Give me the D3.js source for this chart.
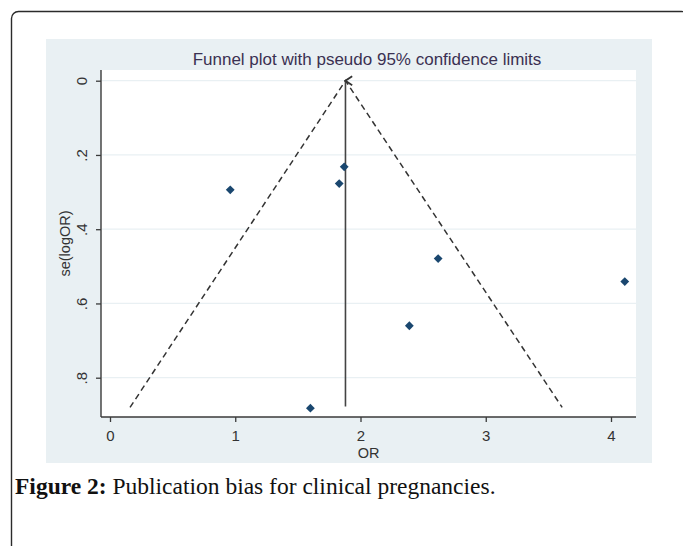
<!DOCTYPE html>
<html>
<head>
<meta charset="utf-8">
<script src="https://cdn.jsdelivr.net/npm/d3@7"></script>
<style>
body { margin: 0; background: #fff; }
</style>
</head>
<body>
<div id="funnel"></div>
<script>
// study estimates
const studyOR = [0.96, 1.87, 1.83, 2.62, 4.11, 2.39, 1.60];
const studySE = [0.294, 0.232, 0.277, 0.479, 0.541, 0.660, 0.882];

// pooled estimate and pseudo 95% limits
const pooledOR = 1.88;
const pooledSEmax = 0.88;
const limitOR = [0.16, 1.88, 3.61];
const limitSE = [0.88, 0, 0.88];

const xTicks = [0, 1, 2, 3, 4];
const yTicks = [0, 0.2, 0.4, 0.6, 0.8];
const yTickLabels = ['0', '.2', '.4', '.6', '.8'];

const width = 683, height = 546;

const svg = d3.select('#funnel')
    .append('svg')
    .attr('width', width)
    .attr('height', height);

// outer box of the figure
svg.append('rect')
    .attr('x', 11.5).attr('y', 11.5)
    .attr('width', 677).attr('height', 580)
    .attr('rx', 7)
    .style('fill', 'none')
    .style('stroke', '#2b2b2b')
    .style('stroke-width', 1.4);

// graph region
svg.append('rect')
    .attr('x', 46).attr('y', 39)
    .attr('width', 606).attr('height', 424)
    .style('fill', '#e9f0f3');

const plotL = 101, plotR = 636, plotT = 70, plotB = 417;

svg.append('rect')
    .attr('x', plotL).attr('y', plotT)
    .attr('width', plotR - plotL).attr('height', plotB - plotT)
    .style('fill', '#fff');

let scaleX = d3.scaleLinear().domain([0, 4]).range([110, 611]);
let scaleY = d3.scaleLinear().domain([0, 0.8]).range([80.7, 377.7]);

// grid
svg.selectAll('.grid')
    .data(yTicks)
    .enter()
    .append('line')
    .attr('class', 'grid')
    .attr('x1', plotL + 1).attr('x2', plotR)
    .attr('y1', d => scaleY(d)).attr('y2', d => scaleY(d))
    .style('stroke', '#e9f0f3')
    .style('stroke-width', 1.2);

// axes
let xAxis = d3.axisBottom(scaleX).tickValues(xTicks).tickSize(5).tickFormat(d3.format('d'));
let yAxis = d3.axisLeft(scaleY).tickValues(yTicks).tickSize(5).tickFormat((d, i) => yTickLabels[i]);

let xAxisGroup = svg.append('g')
    .attr('class', 'x axis')
    .attr('transform', 'translate(0,' + plotB + ')')
    .call(xAxis);

let yAxisGroup = svg.append('g')
    .attr('class', 'y axis')
    .attr('transform', 'translate(' + plotL + ',0)')
    .call(yAxis);

[xAxisGroup, yAxisGroup].forEach(g => {
    g.select('.domain').remove();
    g.selectAll('.tick line').style('stroke', '#3a3a3a').style('stroke-width', 1.3);
    g.selectAll('.tick text')
        .style('font-family', '"Liberation Sans", Arial, sans-serif')
        .style('font-size', '15px')
        .style('fill', '#333');
});

xAxisGroup.selectAll('.tick text').attr('y', 13).attr('dy', '0.71em');

yAxisGroup.selectAll('.tick text')
    .attr('x', 0).attr('dy', '0.36em')
    .attr('transform', 'translate(-19,0) rotate(-90)')
    .style('text-anchor', 'middle');

svg.append('line')
    .attr('x1', plotL).attr('x2', plotL)
    .attr('y1', plotT).attr('y2', plotB)
    .style('stroke', '#3a3a3a').style('stroke-width', 1.4);
svg.append('line')
    .attr('x1', plotL).attr('x2', plotR)
    .attr('y1', plotB).attr('y2', plotB)
    .style('stroke', '#3a3a3a').style('stroke-width', 1.4);

// axis titles
svg.append('text')
    .attr('transform', 'translate(70,' + (plotT + plotB) / 2 + ') rotate(-90)')
    .style('text-anchor', 'middle')
    .style('font-family', '"Liberation Sans", Arial, sans-serif')
    .style('font-size', '14.5px')
    .style('fill', '#333')
    .text('se(logOR)');

svg.append('text')
    .attr('x', (plotL + plotR) / 2)
    .attr('y', 457.5)
    .style('text-anchor', 'middle')
    .style('font-family', '"Liberation Sans", Arial, sans-serif')
    .style('font-size', '14.5px')
    .style('fill', '#333')
    .text('OR');

let title = svg.append('text')
    .attr('x', 367)
    .attr('y', 64.5)
    .style('text-anchor', 'middle')
    .style('font-family', '"Liberation Sans", Arial, sans-serif')
    .style('font-size', '17px')
    .style('fill', '#3b3152')
    .text('Funnel plot with pseudo 95% confidence limits');

// pseudo confidence limits
let limits = limitOR.map((d, i) => ({or: d, se: limitSE[i]}));
svg.append('path')
    .datum(limits)
    .attr('d', d3.line().x(d => scaleX(d.or)).y(d => scaleY(d.se)))
    .style('fill', 'none')
    .style('stroke', '#333')
    .style('stroke-width', 1.5)
    .style('stroke-dasharray', '6,4');

// pooled estimate line with arrow tip
svg.append('defs').append('marker')
    .attr('id', 'tip')
    .attr('viewBox', '0 0 10 10')
    .attr('refX', 5).attr('refY', 1)
    .attr('markerWidth', 7).attr('markerHeight', 7)
    .attr('orient', 'auto-start-reverse')
    .append('path')
    .attr('d', 'M1,7 L5,1 L9,7')
    .style('fill', 'none')
    .style('stroke', '#333')
    .style('stroke-width', 1.6);

svg.append('line')
    .attr('x1', scaleX(pooledOR)).attr('x2', scaleX(pooledOR))
    .attr('y1', scaleY(pooledSEmax) - 1).attr('y2', scaleY(0))
    .style('stroke', '#444')
    .style('stroke-width', 1.6)
    .attr('marker-end', 'url(#tip)');

// studies
let data = studyOR.map((d, i) => ({or: d, se: studySE[i]}));
svg.selectAll('.study')
    .data(data)
    .enter()
    .append('path')
    .attr('class', 'study')
    .attr('d', 'M0,-4.4 L4.4,0 L0,4.4 L-4.4,0 Z')
    .attr('transform', d => 'translate(' + scaleX(d.or) + ',' + scaleY(d.se) + ')')
    .style('fill', '#1a476f');

// caption
let caption = svg.append('text')
    .attr('x', 15)
    .attr('y', 494)
    .style('font-family', '"Liberation Serif", "Times New Roman", serif')
    .style('font-size', '23.5px')
    .style('fill', '#111');
caption.append('tspan').style('font-weight', 'bold').text('Figure 2:');
caption.append('tspan').text(' Publication bias for clinical pregnancies.');
</script>
</body>
</html>
